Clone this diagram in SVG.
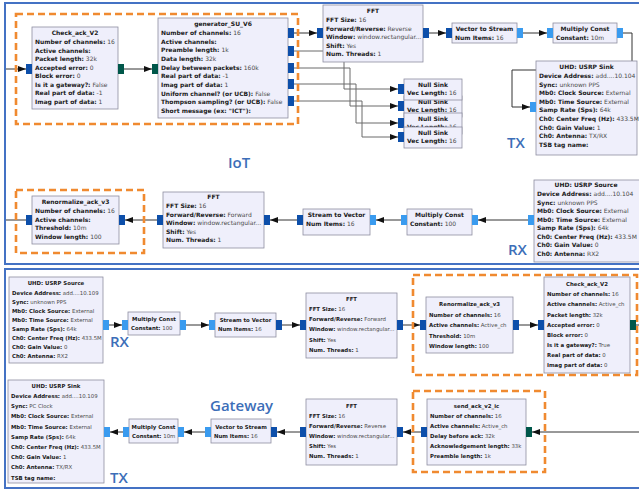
<svg xmlns="http://www.w3.org/2000/svg" width="639" height="491" viewBox="0 0 639 491">
<defs>
<style>
.panel{fill:none;stroke:#4472C4;stroke-width:2}
.blk{fill:#EFEFFB;stroke:#8E8EA0;stroke-width:0.8}
.dash{fill:none;stroke:#F08A30;stroke-width:2.6;stroke-dasharray:7 4}
.f6{font-family:"DejaVu Sans",sans-serif;font-size:6px}
.f5{font-family:"DejaVu Sans",sans-serif;font-size:5.4px}
.k{font-weight:bold;fill:#1a1a1a}
.v{fill:#4a4a4a}
.c{text-anchor:middle;font-weight:bold;fill:#1a1a1a}
.pd{fill:#0D4FAA}
.pl{fill:#3A9BEF}
.pg{fill:#00574A}
.w{fill:none;stroke:#333;stroke-width:1}
.g{fill:none;stroke:#6a6a6a;stroke-width:1}
.lbl{font-family:"Open Sans","DejaVu Sans",sans-serif;font-size:15px;font-weight:600;fill:#3C6EB8}
</style>
<marker id="ah" viewBox="0 0 8 6" refX="8" refY="3" markerWidth="8" markerHeight="6" markerUnits="userSpaceOnUse" orient="auto"><path d="M0,0 L8,3 L0,6 z" fill="#111"/></marker>
</defs>
<rect width="639" height="491" fill="#ffffff"/>
<rect class="panel" x="5" y="3" width="640" height="261"/>
<rect class="panel" x="5" y="269" width="640" height="219"/>

<g id="connectors">
<path class="w" d="M6,69 H26" marker-end="url(#ah)"/>
<path class="w" d="M124,69 H152" marker-end="url(#ah)"/>
<path class="w" d="M294,33 H317" marker-end="url(#ah)"/>
<path class="g" d="M294,51 H344 V89 H398" marker-end="url(#ah)"/>
<path class="g" d="M294,68 H350 V106 H398" marker-end="url(#ah)"/>
<path class="g" d="M294,84 H356 V123 H398" marker-end="url(#ah)"/>
<path class="g" d="M294,101 H362 V137 H398" marker-end="url(#ah)"/>
<path class="w" d="M429,33 H446" marker-end="url(#ah)"/>
<path class="w" d="M523,33 H547" marker-end="url(#ah)"/>
<path class="w" d="M623,33 H632 V70 H512 V107 H530" marker-end="url(#ah)"/>
<path class="w" d="M26,220 H6"/>
<path class="w" d="M157,220 H125" marker-end="url(#ah)"/>
<path class="w" d="M297,220 H270" marker-end="url(#ah)"/>
<path class="w" d="M401,220 H376" marker-end="url(#ah)"/>
<path class="w" d="M528,220 H478" marker-end="url(#ah)"/>
<path class="w" d="M109,325 H122" marker-end="url(#ah)"/>
<path class="w" d="M186,325 H209" marker-end="url(#ah)"/>
<path class="w" d="M282,325 H300" marker-end="url(#ah)"/>
<path class="w" d="M403,325 H420" marker-end="url(#ah)"/>
<path class="w" d="M519,325 H538" marker-end="url(#ah)"/>
<path class="w" d="M636,325 H640"/>
<path class="w" d="M123,432 H110" marker-end="url(#ah)"/>
<path class="w" d="M205,432 H184" marker-end="url(#ah)"/>
<path class="w" d="M300,432 H277" marker-end="url(#ah)"/>
<path class="w" d="M421,432 H403" marker-end="url(#ah)"/>
<path class="w" d="M640,432 H532" marker-end="url(#ah)"/>
</g>

<rect class="dash" x="16" y="14" width="282" height="110"/>
<rect class="dash" x="16" y="190" width="128" height="63"/>
<rect class="dash" x="413" y="275" width="224" height="100"/>
<rect class="dash" x="413" y="391" width="132" height="81"/>

<g id="check_ack_iot">
<rect class="blk" x="32" y="27" width="86" height="82"/>
<rect class="pd" x="26" y="64" width="6" height="10"/>
<rect class="pg" x="118" y="64" width="6" height="10"/>
<text class="f6 c" x="75" y="35">Check_ack_V2</text>
<text class="f6" x="35" y="44"><tspan class="k">Number of channels:</tspan><tspan class="v"> 16</tspan></text>
<text class="f6" x="35" y="52.5"><tspan class="k">Active channels:</tspan></text>
<text class="f6" x="35" y="61"><tspan class="k">Packet length:</tspan><tspan class="v"> 32k</tspan></text>
<text class="f6" x="35" y="69.5"><tspan class="k">Accepted error:</tspan><tspan class="v"> 0</tspan></text>
<text class="f6" x="35" y="78"><tspan class="k">Block error:</tspan><tspan class="v"> 0</tspan></text>
<text class="f6" x="35" y="86.5"><tspan class="k">Is it a gateway?:</tspan><tspan class="v"> False</tspan></text>
<text class="f6" x="35" y="95"><tspan class="k">Real part of data:</tspan><tspan class="v"> -1</tspan></text>
<text class="f6" x="35" y="103.5"><tspan class="k">Imag part of data:</tspan><tspan class="v"> 1</tspan></text>
</g>

<g id="generator">
<rect class="blk" x="158" y="18" width="130" height="100"/>
<rect class="pg" x="152" y="64" width="6" height="10"/>
<rect class="pd" x="288" y="28" width="6" height="10"/>
<rect class="pd" x="288" y="46" width="6" height="10"/>
<rect class="pd" x="288" y="63" width="6" height="10"/>
<rect class="pd" x="288" y="79" width="6" height="10"/>
<rect class="pd" x="288" y="96" width="6" height="10"/>
<text class="f6 c" x="223" y="26">generator_SU_V6</text>
<text class="f6" x="161" y="35"><tspan class="k">Number of channels:</tspan><tspan class="v"> 16</tspan></text>
<text class="f6" x="161" y="43.7"><tspan class="k">Active channels:</tspan></text>
<text class="f6" x="161" y="52.3"><tspan class="k">Preamble length:</tspan><tspan class="v"> 1k</tspan></text>
<text class="f6" x="161" y="61"><tspan class="k">Data length:</tspan><tspan class="v"> 32k</tspan></text>
<text class="f6" x="161" y="69.7"><tspan class="k">Delay between packets:</tspan><tspan class="v"> 160k</tspan></text>
<text class="f6" x="161" y="78.3"><tspan class="k">Real part of data:</tspan><tspan class="v"> -1</tspan></text>
<text class="f6" x="161" y="87"><tspan class="k">Imag part of data:</tspan><tspan class="v"> 1</tspan></text>
<text class="f6" x="161" y="95.7"><tspan class="k">Uniform channel? (or UCB):</tspan><tspan class="v"> False</tspan></text>
<text class="f6" x="161" y="104.3"><tspan class="k">Thompson sampling? (or UCB):</tspan><tspan class="v"> False</tspan></text>
<text class="f6" x="161" y="113"><tspan class="k">Short message (ex: "ICT"):</tspan></text>
</g>

<g id="fft_iot_tx">
<rect class="blk" x="323" y="5" width="100" height="57"/>
<rect class="pd" x="317" y="28" width="6" height="10"/>
<rect class="pd" x="423" y="28" width="6" height="10"/>
<text class="f6 c" x="373" y="13">FFT</text>
<text class="f6" x="326" y="22"><tspan class="k">FFT Size:</tspan><tspan class="v"> 16</tspan></text>
<text class="f6" x="326" y="30.5"><tspan class="k">Forward/Reverse:</tspan><tspan class="v"> Reverse</tspan></text>
<text class="f6" x="326" y="39"><tspan class="k">Window:</tspan><tspan class="v"> window.rectangular...</tspan></text>
<text class="f6" x="326" y="47.5"><tspan class="k">Shift:</tspan><tspan class="v"> Yes</tspan></text>
<text class="f6" x="326" y="56"><tspan class="k">Num. Threads:</tspan><tspan class="v"> 1</tspan></text>
</g>

<g id="v2s_iot">
<rect class="blk" x="452" y="23" width="65" height="20"/>
<rect class="pd" x="446" y="28" width="6" height="10"/>
<rect class="pl" x="517" y="28" width="6" height="10"/>
<text class="f6 c" x="484.5" y="31">Vector to Stream</text>
<text class="f6" x="455" y="40"><tspan class="k">Num Items:</tspan><tspan class="v"> 16</tspan></text>
</g>

<g id="mc_iot_tx">
<rect class="blk" x="553" y="23" width="64" height="20"/>
<rect class="pl" x="547" y="28" width="6" height="10"/>
<rect class="pl" x="617" y="28" width="6" height="10"/>
<text class="f6 c" x="585" y="31">Multiply Const</text>
<text class="f6" x="556" y="40"><tspan class="k">Constant:</tspan><tspan class="v"> 10m</tspan></text>
</g>

<g id="null_sink_2">
<rect class="blk" x="404" y="96" width="58" height="21"/>
<rect class="pd" x="398" y="101" width="6" height="10"/>
<text class="f6 c" x="433" y="104">Null Sink</text>
<text class="f6" x="407" y="112"><tspan class="k">Vec Length:</tspan><tspan class="v"> 16</tspan></text>
</g>
<g id="null_sink_1">
<rect class="blk" x="404" y="79" width="58" height="21"/>
<rect class="pd" x="398" y="84" width="6" height="10"/>
<text class="f6 c" x="433" y="87">Null Sink</text>
<text class="f6" x="407" y="95"><tspan class="k">Vec Length:</tspan><tspan class="v"> 16</tspan></text>
</g>
<g id="null_sink_3">
<rect class="blk" x="404" y="113" width="58" height="21"/>
<rect class="pd" x="398" y="118" width="6" height="10"/>
<text class="f6 c" x="433" y="121">Null Sink</text>
<text class="f6" x="407" y="129"><tspan class="k">Vec Length:</tspan><tspan class="v"> 16</tspan></text>
</g>
<g id="null_sink_4">
<rect class="blk" x="404" y="127" width="58" height="21"/>
<rect class="pd" x="398" y="132" width="6" height="10"/>
<text class="f6 c" x="433" y="135">Null Sink</text>
<text class="f6" x="407" y="143"><tspan class="k">Vec Length:</tspan><tspan class="v"> 16</tspan></text>
</g>

<g id="usrp_sink_iot">
<rect class="blk" x="536" y="61" width="101" height="94"/>
<rect class="pl" x="530" y="102" width="6" height="10"/>
<text class="f6 c" x="586.5" y="69">UHD: USRP Sink</text>
<text class="f6" x="539" y="78"><tspan class="k">Device Address:</tspan><tspan class="v"> add....10.104</tspan></text>
<text class="f6" x="539" y="86.6"><tspan class="k">Sync:</tspan><tspan class="v"> unknown PPS</tspan></text>
<text class="f6" x="539" y="95.2"><tspan class="k">Mb0: Clock Source:</tspan><tspan class="v"> External</tspan></text>
<text class="f6" x="539" y="103.8"><tspan class="k">Mb0: Time Source:</tspan><tspan class="v"> External</tspan></text>
<text class="f6" x="539" y="112.4"><tspan class="k">Samp Rate (Sps):</tspan><tspan class="v"> 64k</tspan></text>
<text class="f6" x="539" y="121"><tspan class="k">Ch0: Center Freq (Hz):</tspan><tspan class="v"> 433.5M</tspan></text>
<text class="f6" x="539" y="129.6"><tspan class="k">Ch0: Gain Value:</tspan><tspan class="v"> 1</tspan></text>
<text class="f6" x="539" y="138.2"><tspan class="k">Ch0: Antenna:</tspan><tspan class="v"> TX/RX</tspan></text>
<text class="f6" x="539" y="146.8"><tspan class="k">TSB tag name:</tspan></text>
</g>

<g id="renorm_iot">
<rect class="blk" x="32" y="196" width="87" height="48"/>
<rect class="pd" x="26" y="215" width="6" height="10"/>
<rect class="pd" x="119" y="215" width="6" height="10"/>
<text class="f6 c" x="75.5" y="204">Renormalize_ack_v3</text>
<text class="f6" x="35" y="213"><tspan class="k">Number of channels:</tspan><tspan class="v"> 16</tspan></text>
<text class="f6" x="35" y="221.5"><tspan class="k">Active channels:</tspan></text>
<text class="f6" x="35" y="230"><tspan class="k">Threshold:</tspan><tspan class="v"> 10m</tspan></text>
<text class="f6" x="35" y="238.5"><tspan class="k">Window length:</tspan><tspan class="v"> 100</tspan></text>
</g>

<g id="fft_iot_rx">
<rect class="blk" x="163" y="192" width="101" height="56"/>
<rect class="pd" x="157" y="215" width="6" height="10"/>
<rect class="pd" x="264" y="215" width="6" height="10"/>
<text class="f6 c" x="213.5" y="199">FFT</text>
<text class="f6" x="166" y="208"><tspan class="k">FFT Size:</tspan><tspan class="v"> 16</tspan></text>
<text class="f6" x="166" y="216.5"><tspan class="k">Forward/Reverse:</tspan><tspan class="v"> Forward</tspan></text>
<text class="f6" x="166" y="225"><tspan class="k">Window:</tspan><tspan class="v"> window.rectangular...</tspan></text>
<text class="f6" x="166" y="233.5"><tspan class="k">Shift:</tspan><tspan class="v"> Yes</tspan></text>
<text class="f6" x="166" y="242"><tspan class="k">Num. Threads:</tspan><tspan class="v"> 1</tspan></text>
</g>

<g id="s2v_iot">
<rect class="blk" x="303" y="209" width="67" height="26"/>
<rect class="pd" x="297" y="215" width="6" height="10"/>
<rect class="pl" x="370" y="215" width="6" height="10"/>
<text class="f6 c" x="336.5" y="217">Stream to Vector</text>
<text class="f6" x="306" y="226"><tspan class="k">Num Items:</tspan><tspan class="v"> 16</tspan></text>
</g>

<g id="mc_iot_rx">
<rect class="blk" x="407" y="209" width="65" height="26"/>
<rect class="pl" x="401" y="215" width="6" height="10"/>
<rect class="pl" x="472" y="215" width="6" height="10"/>
<text class="f6 c" x="439.5" y="217">Multiply Const</text>
<text class="f6" x="410" y="226"><tspan class="k">Constant:</tspan><tspan class="v"> 100</tspan></text>
</g>

<g id="usrp_source_iot">
<rect class="blk" x="534" y="180" width="106" height="82"/>
<rect class="pl" x="528" y="215" width="6" height="10"/>
<text class="f6 c" x="586" y="187">UHD: USRP Source</text>
<text class="f6" x="537" y="196"><tspan class="k">Device Address:</tspan><tspan class="v"> add....10.104</tspan></text>
<text class="f6" x="537" y="204.5"><tspan class="k">Sync:</tspan><tspan class="v"> unknown PPS</tspan></text>
<text class="f6" x="537" y="213"><tspan class="k">Mb0: Clock Source:</tspan><tspan class="v"> External</tspan></text>
<text class="f6" x="537" y="221.5"><tspan class="k">Mb0: Time Source:</tspan><tspan class="v"> External</tspan></text>
<text class="f6" x="537" y="230"><tspan class="k">Samp Rate (Sps):</tspan><tspan class="v"> 64k</tspan></text>
<text class="f6" x="537" y="238.5"><tspan class="k">Ch0: Center Freq (Hz):</tspan><tspan class="v"> 433.5M</tspan></text>
<text class="f6" x="537" y="247"><tspan class="k">Ch0: Gain Value:</tspan><tspan class="v"> 0</tspan></text>
<text class="f6" x="537" y="255.5"><tspan class="k">Ch0: Antenna:</tspan><tspan class="v"> RX2</tspan></text>
</g>

<g id="usrp_source_gw">
<rect class="blk" x="9" y="277" width="94" height="86"/>
<rect class="pl" x="103" y="320" width="6" height="10"/>
<text class="f5 c" x="56" y="285">UHD: USRP Source</text>
<text class="f5" x="12" y="295"><tspan class="k">Device Address:</tspan><tspan class="v"> add....10.109</tspan></text>
<text class="f5" x="12" y="304"><tspan class="k">Sync:</tspan><tspan class="v"> unknown PPS</tspan></text>
<text class="f5" x="12" y="313"><tspan class="k">Mb0: Clock Source:</tspan><tspan class="v"> External</tspan></text>
<text class="f5" x="12" y="322"><tspan class="k">Mb0: Time Source:</tspan><tspan class="v"> External</tspan></text>
<text class="f5" x="12" y="331"><tspan class="k">Samp Rate (Sps):</tspan><tspan class="v"> 64k</tspan></text>
<text class="f5" x="12" y="340"><tspan class="k">Ch0: Center Freq (Hz):</tspan><tspan class="v"> 433.5M</tspan></text>
<text class="f5" x="12" y="349"><tspan class="k">Ch0: Gain Value:</tspan><tspan class="v"> 0</tspan></text>
<text class="f5" x="12" y="358"><tspan class="k">Ch0: Antenna:</tspan><tspan class="v"> RX2</tspan></text>
</g>

<g id="mc_gw_rx">
<rect class="blk" x="128" y="312" width="52" height="23"/>
<rect class="pl" x="122" y="320" width="6" height="10"/>
<rect class="pl" x="180" y="320" width="6" height="10"/>
<text class="f5 c" x="154" y="321">Multiply Const</text>
<text class="f5" x="131" y="330"><tspan class="k">Constant:</tspan><tspan class="v"> 100</tspan></text>
</g>

<g id="s2v_gw">
<rect class="blk" x="215" y="313" width="61" height="24"/>
<rect class="pl" x="209" y="320" width="6" height="10"/>
<rect class="pd" x="276" y="320" width="6" height="10"/>
<text class="f5 c" x="245.5" y="321.5">Stream to Vector</text>
<text class="f5" x="218" y="331"><tspan class="k">Num Items:</tspan><tspan class="v"> 16</tspan></text>
</g>

<g id="fft_gw_rx">
<rect class="blk" x="306" y="293" width="91" height="65"/>
<rect class="pd" x="300" y="320" width="6" height="10"/>
<rect class="pd" x="397" y="320" width="6" height="10"/>
<text class="f5 c" x="351.5" y="301">FFT</text>
<text class="f5" x="309" y="311"><tspan class="k">FFT Size:</tspan><tspan class="v"> 16</tspan></text>
<text class="f5" x="309" y="321"><tspan class="k">Forward/Reverse:</tspan><tspan class="v"> Forward</tspan></text>
<text class="f5" x="309" y="331"><tspan class="k">Window:</tspan><tspan class="v"> window.rectangular...</tspan></text>
<text class="f5" x="309" y="342"><tspan class="k">Shift:</tspan><tspan class="v"> Yes</tspan></text>
<text class="f5" x="309" y="352"><tspan class="k">Num. Threads:</tspan><tspan class="v"> 1</tspan></text>
</g>

<g id="renorm_gw">
<rect class="blk" x="426" y="297" width="87" height="56"/>
<rect class="pd" x="420" y="320" width="6" height="10"/>
<rect class="pd" x="513" y="320" width="6" height="10"/>
<text class="f5 c" x="469.5" y="306">Renormalize_ack_v3</text>
<text class="f5" x="429" y="317"><tspan class="k">Number of channels:</tspan><tspan class="v"> 16</tspan></text>
<text class="f5" x="429" y="327"><tspan class="k">Active channels:</tspan><tspan class="v"> Active_ch</tspan></text>
<text class="f5" x="429" y="338"><tspan class="k">Threshold:</tspan><tspan class="v"> 10m</tspan></text>
<text class="f5" x="429" y="348"><tspan class="k">Window length:</tspan><tspan class="v"> 100</tspan></text>
</g>

<g id="check_ack_gw">
<rect class="blk" x="544" y="277" width="86" height="96"/>
<rect class="pd" x="538" y="320" width="6" height="10"/>
<rect class="pg" x="630" y="320" width="6" height="10"/>
<text class="f5 c" x="587" y="286">Check_ack_V2</text>
<text class="f5" x="547" y="296"><tspan class="k">Number of channels:</tspan><tspan class="v"> 16</tspan></text>
<text class="f5" x="547" y="306"><tspan class="k">Active channels:</tspan><tspan class="v"> Active_ch</tspan></text>
<text class="f5" x="547" y="317"><tspan class="k">Packet length:</tspan><tspan class="v"> 32k</tspan></text>
<text class="f5" x="547" y="327"><tspan class="k">Accepted error:</tspan><tspan class="v"> 0</tspan></text>
<text class="f5" x="547" y="337"><tspan class="k">Block error:</tspan><tspan class="v"> 0</tspan></text>
<text class="f5" x="547" y="347"><tspan class="k">Is it a gateway?:</tspan><tspan class="v"> True</tspan></text>
<text class="f5" x="547" y="357"><tspan class="k">Real part of data:</tspan><tspan class="v"> 0</tspan></text>
<text class="f5" x="547" y="367"><tspan class="k">Imag part of data:</tspan><tspan class="v"> 0</tspan></text>
</g>

<g id="usrp_sink_gw">
<rect class="blk" x="8" y="380" width="96" height="103"/>
<rect class="pl" x="104" y="427" width="6" height="10"/>
<text class="f5 c" x="56" y="388">UHD: USRP Sink</text>
<text class="f5" x="11" y="398"><tspan class="k">Device Address:</tspan><tspan class="v"> add....10.109</tspan></text>
<text class="f5" x="11" y="408.2"><tspan class="k">Sync:</tspan><tspan class="v"> PC Clock</tspan></text>
<text class="f5" x="11" y="418.4"><tspan class="k">Mb0: Clock Source:</tspan><tspan class="v"> External</tspan></text>
<text class="f5" x="11" y="428.6"><tspan class="k">Mb0: Time Source:</tspan><tspan class="v"> External</tspan></text>
<text class="f5" x="11" y="438.8"><tspan class="k">Samp Rate (Sps):</tspan><tspan class="v"> 64k</tspan></text>
<text class="f5" x="11" y="449"><tspan class="k">Ch0: Center Freq (Hz):</tspan><tspan class="v"> 433.5M</tspan></text>
<text class="f5" x="11" y="459.2"><tspan class="k">Ch0: Gain Value:</tspan><tspan class="v"> 1</tspan></text>
<text class="f5" x="11" y="469.4"><tspan class="k">Ch0: Antenna:</tspan><tspan class="v"> TX/RX</tspan></text>
<text class="f5" x="11" y="479.6"><tspan class="k">TSB tag name:</tspan></text>
</g>

<g id="mc_gw_tx">
<rect class="blk" x="129" y="419" width="49" height="24"/>
<rect class="pl" x="123" y="427" width="6" height="10"/>
<rect class="pl" x="178" y="427" width="6" height="10"/>
<text class="f5 c" x="153.5" y="429">Multiply Const</text>
<text class="f5" x="132" y="438"><tspan class="k">Constant:</tspan><tspan class="v"> 10m</tspan></text>
</g>

<g id="v2s_gw">
<rect class="blk" x="211" y="419" width="60" height="24"/>
<rect class="pl" x="205" y="427" width="6" height="10"/>
<rect class="pd" x="271" y="427" width="6" height="10"/>
<text class="f5 c" x="241" y="429">Vector to Stream</text>
<text class="f5" x="214" y="438"><tspan class="k">Num Items:</tspan><tspan class="v"> 16</tspan></text>
</g>

<g id="fft_gw_tx">
<rect class="blk" x="306" y="399" width="91" height="66"/>
<rect class="pd" x="300" y="427" width="6" height="10"/>
<rect class="pd" x="397" y="427" width="6" height="10"/>
<text class="f5 c" x="351.5" y="408">FFT</text>
<text class="f5" x="309" y="418"><tspan class="k">FFT Size:</tspan><tspan class="v"> 16</tspan></text>
<text class="f5" x="309" y="428"><tspan class="k">Forward/Reverse:</tspan><tspan class="v"> Reverse</tspan></text>
<text class="f5" x="309" y="438"><tspan class="k">Window:</tspan><tspan class="v"> window.rectangular...</tspan></text>
<text class="f5" x="309" y="448"><tspan class="k">Shift:</tspan><tspan class="v"> Yes</tspan></text>
<text class="f5" x="309" y="458"><tspan class="k">Num. Threads:</tspan><tspan class="v"> 1</tspan></text>
</g>

<g id="send_ack">
<rect class="blk" x="427" y="399" width="99" height="66"/>
<rect class="pd" x="421" y="427" width="6" height="10"/>
<rect class="pg" x="526" y="427" width="6" height="10"/>
<text class="f5 c" x="476.5" y="408">send_ack_v2_ic</text>
<text class="f5" x="430" y="418"><tspan class="k">Number of channels:</tspan><tspan class="v"> 16</tspan></text>
<text class="f5" x="430" y="428"><tspan class="k">Active channels:</tspan><tspan class="v"> Active_ch</tspan></text>
<text class="f5" x="430" y="438"><tspan class="k">Delay before ack:</tspan><tspan class="v"> 32k</tspan></text>
<text class="f5" x="430" y="448"><tspan class="k">Acknowledgement length:</tspan><tspan class="v"> 33k</tspan></text>
<text class="f5" x="430" y="458"><tspan class="k">Preamble length:</tspan><tspan class="v"> 1k</tspan></text>
</g>

<text class="lbl" x="228" y="168">IoT</text>
<text class="lbl" x="507" y="148">TX</text>
<text class="lbl" x="508" y="255">RX</text>
<text class="lbl" x="110" y="347">RX</text>
<text class="lbl" x="210" y="411">Gateway</text>
<text class="lbl" x="110" y="483">TX</text>
</svg>
